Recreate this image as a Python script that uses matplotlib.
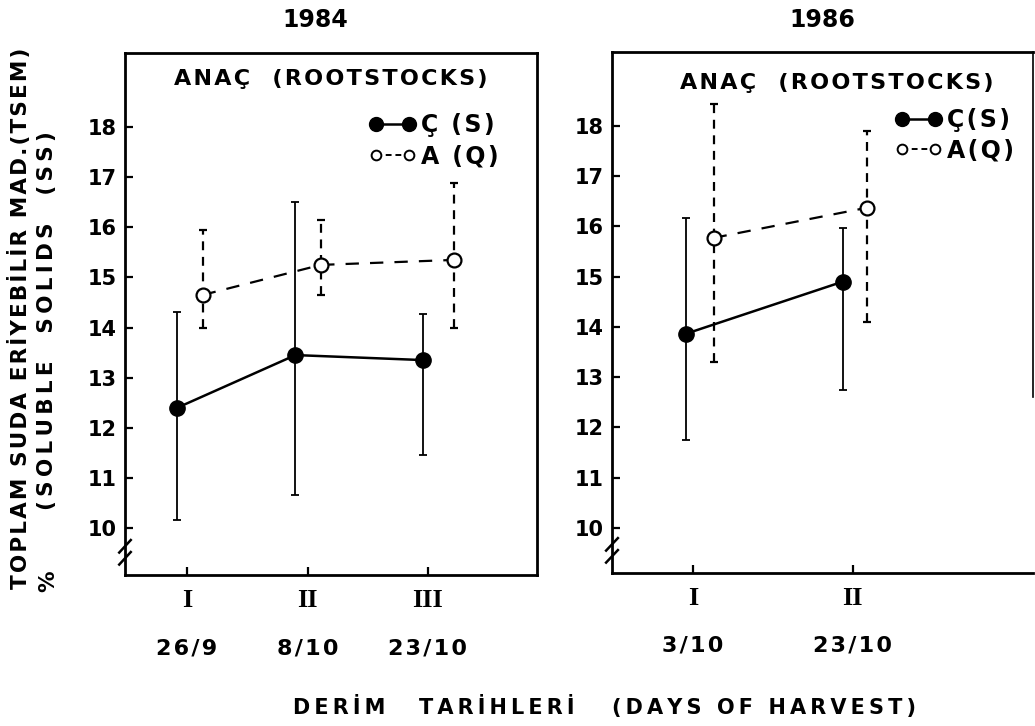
import matplotlib
matplotlib.use('Agg')
import matplotlib.pyplot as plt
from matplotlib.lines import Line2D

plt.rcParams['font.family'] = 'DejaVu Sans'
plt.rcParams['font.weight'] = 'bold'

# harvest dates
roman_84 = ['I', 'II', 'III']
dates_84 = ['26/9', '8/10', '23/10']
roman_86 = ['I', 'II']
dates_86 = ['3/10', '23/10']

# 1984 - Ç (S), filled circles
s_x84 = [0.92, 1.90, 2.96]
s_mean84 = [12.4, 13.45, 13.35]
s_lo84 = [10.15, 10.65, 11.45]
s_hi84 = [14.3, 16.5, 14.27]
# 1984 - A (Q), open circles
q_x84 = [1.13, 2.11, 3.22]
q_mean84 = [14.65, 15.25, 15.35]
q_lo84 = [14.0, 14.65, 14.0]
q_hi84 = [15.95, 16.15, 16.88]

# 1986
s_x86 = [0.955, 1.94]
s_mean86 = [13.86, 14.9]
s_lo86 = [11.75, 12.74]
s_hi86 = [16.17, 15.96]
q_x86 = [1.13, 2.09]
q_mean86 = [15.77, 16.37]
q_lo86 = [13.3, 14.1]
q_hi86 = [18.43, 17.9]

yticks = list(range(10, 19))

W, H = 1035, 726


def spaced(s, gap='\u200a'):
    # the scanned lettering is wide, so pad every letter a little
    return gap.join(s)


fig = plt.figure(figsize=(W / 100, H / 100), dpi=100)
axL = fig.add_axes([125 / W, 1 - 575 / H, (537 - 125) / W, (575 - 53) / H])
axR = fig.add_axes([612 / W, 1 - 573 / H, (1033 - 612) / W, (573 - 52) / H])


def draw_series(ax, x, mean, lo, hi, filled):
    yerr = [[m - l for m, l in zip(mean, lo)], [h - m for m, h in zip(mean, hi)]]
    if filled:
        ax.errorbar(x, mean, yerr=yerr, fmt='o-', color='black', ms=11, lw=1.8,
                    elinewidth=1.3, capsize=3, capthick=1.3)
    else:
        line, caps, bars = ax.errorbar(x, mean, yerr=yerr, fmt='o', color='black',
                                       mfc='white', ms=10, mew=1.6, ls=(0, (6, 5)), lw=1.6,
                                       elinewidth=1.6, capsize=3, capthick=1.3)
        bars[0].set_linestyle((0, (4, 3)))


def setup(ax, ticks, roman, dates, xlim, ylim):
    ax.set_xlim(*xlim)
    ax.set_ylim(*ylim)
    ax.set_yticks(yticks)
    ax.set_yticklabels([str(t) for t in yticks], fontsize=15, fontweight='bold')
    ax.set_xticks(ticks)
    ax.set_xticklabels(roman, fontsize=19, fontweight='bold', family='Liberation Serif')
    ax.tick_params(axis='y', direction='in', length=6, width=1.6, pad=6)
    ax.tick_params(axis='x', direction='in', length=6, width=1.6, pad=10)
    for sp in ax.spines.values():
        sp.set_linewidth(2.0)
    for t, d in zip(ticks, dates):
        ax.text(t, -0.14, spaced(d), transform=ax.get_xaxis_transform(), ha='center',
                va='center', fontsize=16)
    # axis break marks on the left spine
    for yb in (0.055, 0.032):
        ax.plot([-0.014, 0.014], [yb - 0.012, yb + 0.012], transform=ax.transAxes,
                color='black', lw=1.8, clip_on=False)


setup(axL, [1, 2, 3], roman_84, dates_84, (0.485, 3.905), (9.06, 19.48))
setup(axR, [1, 2], roman_86, dates_86, (0.494, 3.13), (9.1, 19.47))
axR.spines['right'].set_bounds(12.6, 19.47)
axR.spines['right'].set_linewidth(1.2)

draw_series(axL, s_x84, s_mean84, s_lo84, s_hi84, True)
draw_series(axL, q_x84, q_mean84, q_lo84, q_hi84, False)
draw_series(axR, s_x86, s_mean86, s_lo86, s_hi86, True)
draw_series(axR, q_x86, q_mean86, q_lo86, q_hi86, False)

axL.text(0.499, 0.95, spaced('ANAÇ  (ROOTSTOCKS)'), transform=axL.transAxes,
         ha='center', va='center', fontsize=16)
axR.text(0.534, 0.94, spaced('ANAÇ  (ROOTSTOCKS)'), transform=axR.transAxes,
         ha='center', va='center', fontsize=16)

h_s = Line2D([], [], color='black', marker='o', ms=10, lw=1.8)
h_q = Line2D([], [], color='black', marker='o', mfc='white', ms=7, mew=1.4, lw=1.4,
             ls=(0, (3, 2)))
axL.legend([h_s, h_q], [spaced('Ç (S)'), spaced('A (Q)')], loc='upper left',
           bbox_to_anchor=(0.592, 0.885), numpoints=2, handlelength=2.0, handletextpad=0.2,
           labelspacing=0.32, borderpad=0, borderaxespad=0, frameon=False, fontsize=17)
axR.legend([h_s, h_q], [spaced('Ç(S)'), spaced('A(Q)')], loc='upper left',
           bbox_to_anchor=(0.672, 0.892), numpoints=2, handlelength=2.0, handletextpad=0.2,
           labelspacing=0.25, borderpad=0, borderaxespad=0, frameon=False, fontsize=17)

fig.text(315 / W, 1 - 20 / H, '1984', ha='center', va='center', fontsize=17)
fig.text(822 / W, 1 - 20 / H, '1986', ha='center', va='center', fontsize=17)

fig.text(20 / W, 1 - 589 / H, spaced('TOPLAM SUDA ERİYEBİLİR MAD.(TSEM)'), rotation=90,
         ha='center', va='bottom', fontsize=15.5)
fig.text(47 / W, 1 - 510 / H, spaced('(SOLUBLE  SOLIDS  (SS)', '\u2009'), rotation=90,
         ha='center', va='bottom', fontsize=15.5)
fig.text(48 / W, 1 - 581 / H, '%', rotation=90, ha='center', va='center', fontsize=15.5)

fig.text(293 / W, 1 - 708 / H, spaced('DERİM', '\u2009'), ha='left', va='center',
         fontsize=15)
fig.text(419 / W, 1 - 708 / H, spaced('TARİHLERİ', '\u2009'), ha='left', va='center',
         fontsize=15)
fig.text(612 / W, 1 - 708 / H, spaced('(DAYS OF HARVEST)', '\u2009'), ha='left',
         va='center', fontsize=15)

fig.savefig('out.png', dpi=100)
